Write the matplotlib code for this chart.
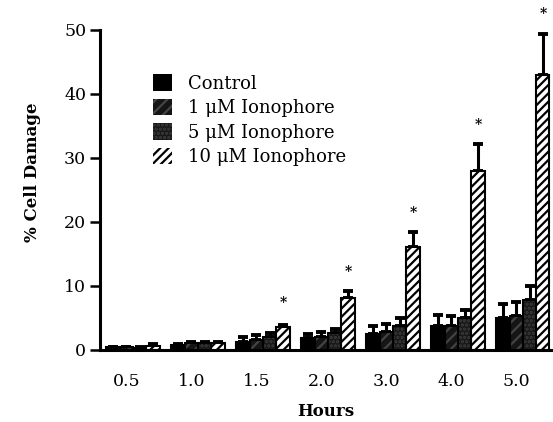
import numpy as np
import matplotlib.pyplot as plt

hours = ["0.5", "1.0", "1.5", "2.0", "3.0", "4.0", "5.0"]
series = ["Control", "1 μM Ionophore", "5 μM Ionophore", "10 μM Ionophore"]

control = [0.4, 0.7, 1.2, 1.9, 2.5, 3.7, 5.0]
iono_1 = [0.4, 1.0, 1.5, 2.0, 2.8, 3.7, 5.3]
iono_5 = [0.3, 1.1, 2.0, 2.6, 3.7, 5.0, 7.8]
iono_10 = [0.6, 1.1, 3.6, 8.1, 16.1, 28.0, 43.0]

err_control = [0.1, 0.2, 0.8, 0.6, 1.2, 1.7, 2.2]
err_1 = [0.1, 0.2, 0.8, 0.8, 1.2, 1.6, 2.2]
err_5 = [0.1, 0.2, 0.7, 0.6, 1.2, 1.3, 2.2]
err_10 = [0.3, 0.2, 0.3, 1.1, 2.3, 4.2, 6.3]

# star marks (significance) on the 10 uM bars
star_idx = [2, 3, 4, 5, 6]
star_y = [7.3, 12.2, 21.4, 35.2, 52.5]

plt.rcParams["font.family"] = ["DejaVu Serif"]
plt.rcParams["hatch.linewidth"] = 1.6

fig = plt.figure(figsize=(5.53, 4.22), dpi=100)
ax = fig.add_axes([0.181, 0.171, 0.815, 0.758])

x = np.arange(len(hours))
w = 0.205

values = [control, iono_1, iono_5, iono_10]
errors = [err_control, err_1, err_5, err_10]
faces = ["black", "#151515", "#181818", "white"]
hatch_cols = ["black", "#444444", "#3c3c3c", "black"]
hatches = [None, "///", "....", "////"]

for k in range(4):
    pos = x + (k - 1.5) * w
    ax.bar(pos, values[k], width=w, color=faces[k],
           edgecolor=hatch_cols[k], hatch=hatches[k],
           linewidth=0, label=series[k], zorder=2)
    # black outline on top
    ax.bar(pos, values[k], width=w, facecolor="none",
           edgecolor="black", linewidth=1.5, zorder=3)
    ax.errorbar(pos, values[k], yerr=[np.zeros(len(x)), errors[k]],
                fmt="none", ecolor="black", elinewidth=2.2,
                capsize=3.5, capthick=2.8, zorder=1)

for i, sy in zip(star_idx, star_y):
    ax.text(x[i] + 1.5 * w, sy, "*", ha="center", va="center",
            fontsize=10, fontweight="bold", clip_on=False)

ax.set_xlim(-0.508, 6.43)
ax.set_ylim(0, 50)
ax.set_yticks([0, 10, 20, 30, 40, 50])
ax.set_xticks(x - 0.1)
ax.set_xticklabels(hours)

for s in ["top", "right"]:
    ax.spines[s].set_visible(False)
ax.spines["left"].set_linewidth(2.2)
ax.spines["bottom"].set_linewidth(2.2)

ax.tick_params(axis="y", length=7, width=1.8, pad=3, labelsize=12.5)
ax.tick_params(axis="x", length=0, pad=17, labelsize=12.5)

ax.set_ylabel("% Cell Damage", fontsize=12, fontweight="bold")
ax.yaxis.set_label_coords(-0.131, 0.556)
ax.set_xlabel("Hours", fontsize=12, fontweight="bold", labelpad=9)

handles, labels = ax.get_legend_handles_labels()
ax.legend(handles, labels, loc="upper left", bbox_to_anchor=(0.098, 0.89),
          frameon=False, fontsize=13, handlelength=1.05, handleheight=1.05,
          handletextpad=0.85, labelspacing=0.33, borderpad=0)

fig.savefig("out.png", dpi=100)
